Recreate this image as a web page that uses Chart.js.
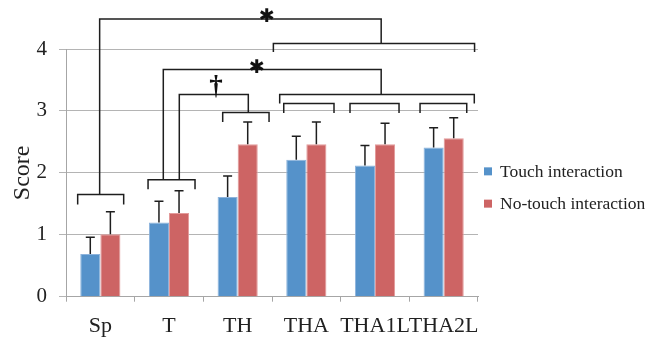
<!DOCTYPE html>
<html><head><meta charset="utf-8">
<script src="https://cdn.jsdelivr.net/npm/chart.js@4"></script>
<style>html,body{margin:0;padding:0;background:#fff}</style>
</head><body>
<canvas id="c" width="661" height="340"></canvas>
<script>
const categories = ['Sp', 'T', 'TH', 'THA', 'THA1L', 'THA2L'];
const seriesNames = ['Touch interaction', 'No-touch interaction'];
const touchScores = [0.69, 1.20, 1.61, 2.21, 2.12, 2.41];
const noTouchScores = [1.01, 1.35, 2.46, 2.46, 2.46, 2.56];
const touchErrors = [0.27, 0.34, 0.34, 0.38, 0.32, 0.32];
const noTouchErrors = [0.36, 0.36, 0.36, 0.36, 0.34, 0.33];
const yTicks = [0, 1, 2, 3, 4];

// significance brackets: polylines in (category position, score) units
const brackets = [
  [[-0.33, 1.49], [-0.33, 1.65], [0.34, 1.65], [0.34, 1.49]],
  [[-0.01, 1.65], [-0.01, 4.485], [4.09, 4.485], [4.09, 4.09]],
  [[2.52, 3.95], [2.52, 4.09], [5.45, 4.09], [5.45, 3.95]],
  [[0.695, 1.736], [0.695, 1.887], [1.379, 1.887], [1.379, 1.736]],
  [[0.917, 1.887], [0.917, 3.67], [4.09, 3.67], [4.09, 3.264]],
  [[2.612, 3.12], [2.612, 3.264], [5.446, 3.264], [5.446, 3.12]],
  [[1.15, 1.887], [1.15, 3.264], [2.155, 3.264], [2.155, 2.975]],
  [[1.782, 2.82], [1.782, 2.975], [2.457, 2.975], [2.457, 2.82]],
  [[2.671, 2.965], [2.671, 3.12], [3.403, 3.12], [3.403, 2.965]],
  [[3.636, 2.965], [3.636, 3.12], [4.35, 3.12], [4.35, 2.965]],
  [[4.656, 2.965], [4.656, 3.12], [5.336, 3.12], [5.336, 2.965]]
];
const markTexts = ['✱', '✱', '†'];
const markPositions = [[2.427, 4.52], [2.28, 3.70], [1.685, 3.39]];

const FONT = '"Liberation Serif", "Times New Roman", serif';
const TEXT = '#222222';

const errorBars = {
  id: 'errorBars',
  afterDatasetsDraw(chart) {
    const ctx = chart.ctx, y = chart.scales.y;
    ctx.save();
    ctx.strokeStyle = '#1e1e1e';
    ctx.lineWidth = 1.5;
    chart.data.datasets.forEach((ds, i) => {
      chart.getDatasetMeta(i).data.forEach((bar, j) => {
        const top = y.getPixelForValue(ds.data[j] + ds.errors[j]);
        ctx.beginPath();
        ctx.moveTo(bar.x, bar.y);
        ctx.lineTo(bar.x, top);
        ctx.moveTo(bar.x - 4.5, top);
        ctx.lineTo(bar.x + 4.5, top);
        ctx.stroke();
      });
    });
    ctx.restore();
  }
};

const annotations = {
  id: 'annotations',
  afterDraw(chart) {
    const ctx = chart.ctx, xs = chart.scales.x, ys = chart.scales.y;
    const x0 = xs.getPixelForValue(0), step = xs.getPixelForValue(1) - x0;
    const px = u => x0 + u * step;
    ctx.save();
    ctx.strokeStyle = '#1e1e1e';
    ctx.lineWidth = 1.5;
    brackets.forEach(b => {
      ctx.beginPath();
      b.forEach(([u, v], k) => {
        const X = px(u), Y = ys.getPixelForValue(v);
        if (k === 0) ctx.moveTo(X, Y); else ctx.lineTo(X, Y);
      });
      ctx.stroke();
    });
    ctx.fillStyle = '#111';
    ctx.textAlign = 'center';
    ctx.textBaseline = 'middle';
    markTexts.forEach((t, k) => {
      const [u, v] = markPositions[k];
      ctx.font = t === '†' ? 'bold 27px ' + FONT : 'bold 19px "DejaVu Sans"';
      ctx.fillText(t, px(u), ys.getPixelForValue(v));
    });
    ctx.restore();
  }
};

// legend drawn beside the plot area, from the dataset labels and colours
const sideLegend = {
  id: 'sideLegend',
  afterDraw(chart) {
    const ctx = chart.ctx, a = chart.chartArea;
    const mid = (a.top + a.bottom) / 2;
    ctx.save();
    ctx.font = '17.5px ' + FONT;
    ctx.textAlign = 'left';
    ctx.textBaseline = 'middle';
    chart.data.datasets.forEach((ds, i) => {
      const cy = mid - 1.5 + i * 32.3;
      ctx.fillStyle = ds.backgroundColor;
      ctx.fillRect(a.right + 6, cy - 4, 8, 8);
      ctx.fillStyle = TEXT;
      ctx.fillText(ds.label, a.right + 22, cy + 1);
    });
    ctx.restore();
  }
};

new Chart(document.getElementById('c'), {
  type: 'bar',
  data: {
    labels: categories,
    datasets: [
      { label: seriesNames[0], data: touchScores, errors: touchErrors,
        backgroundColor: '#5592CA', borderColor: '#8db3dc', borderWidth: 1 },
      { label: seriesNames[1], data: noTouchScores, errors: noTouchErrors,
        backgroundColor: '#CD6464', borderColor: '#e39a9a', borderWidth: 1 }
    ]
  },
  options: {
    responsive: false,
    animation: false,
    devicePixelRatio: 1,
    layout: { padding: { left: 0, top: 49, right: 183, bottom: 2 } },
    datasets: { bar: { barPercentage: 1, categoryPercentage: 0.585 } },
    plugins: {
      tooltip: { enabled: false },
      legend: { display: false }
    },
    scales: {
      x: {
        afterFit(s) { s.height = 41.3; },
        grid: { drawOnChartArea: false, drawTicks: true, tickLength: 5, color: '#a6a6a6' },
        border: { color: '#a6a6a6' },
        ticks: { color: TEXT, font: { family: FONT, size: 22, lineHeight: 1 }, padding: 14, maxRotation: 0, autoSkip: false }
      },
      y: {
        min: 0, max: 4,
        afterFit(s) { s.width = 66; },
        afterBuildTicks(s) { s.ticks = yTicks.map(v => ({ value: v })); },
        grid: { color: '#b4b4b4', tickLength: 7 },
        border: { color: '#a6a6a6' },
        ticks: { color: TEXT, font: { family: FONT, size: 21 }, padding: 12 },
        title: { display: true, text: 'Score', color: TEXT, font: { family: FONT, size: 24 }, padding: { top: 8, bottom: 0 } }
      }
    }
  },
  plugins: [errorBars, annotations, sideLegend]
});
</script>
</body></html>
